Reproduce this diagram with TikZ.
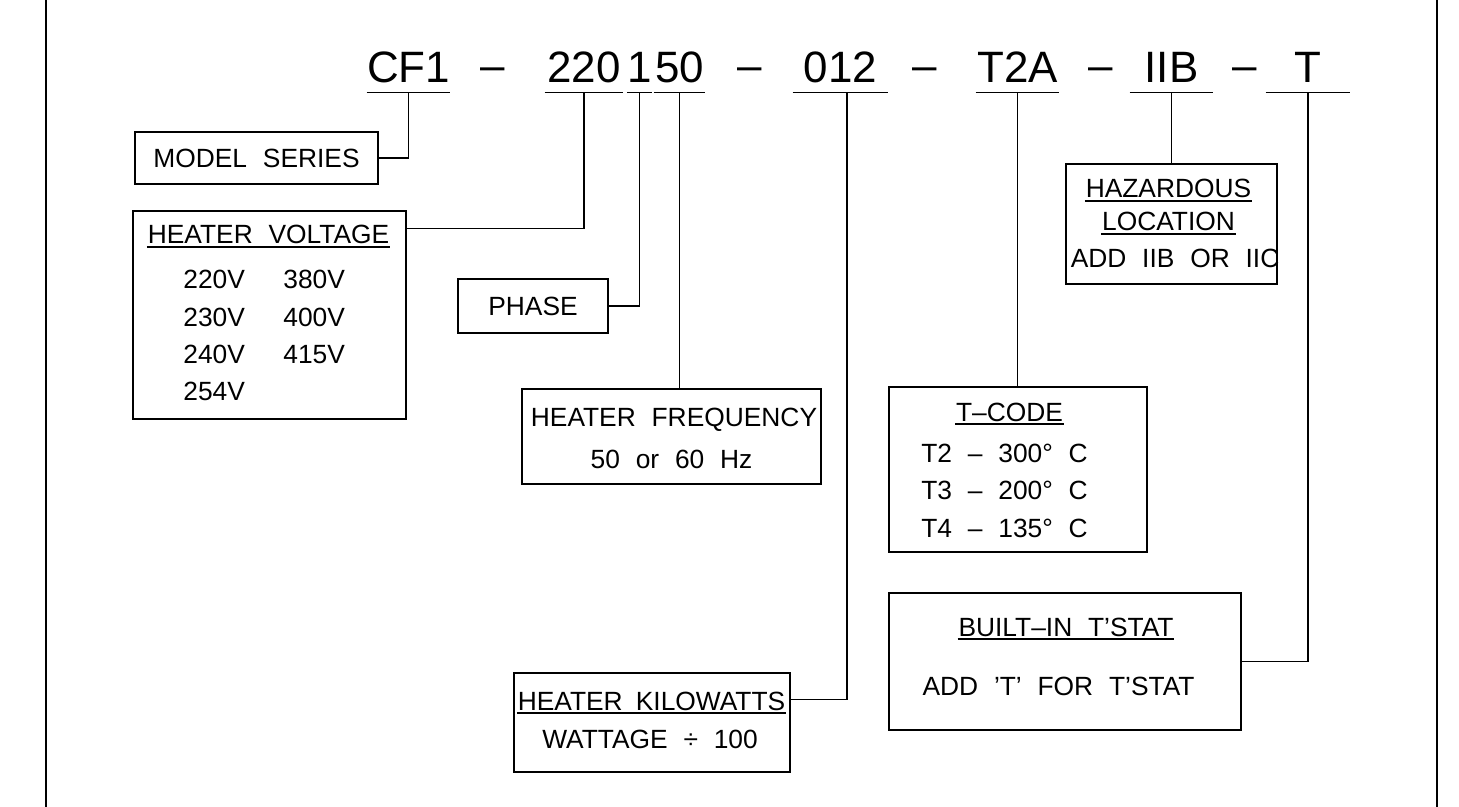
\documentclass[tikz,border=0pt]{standalone}
\usepackage{fontspec}
\setmainfont{Liberation Sans}
\newcommand{\wsp}{\hspace{0.6em}}
\newcommand{\ulbox}[1]{\vtop{\hbox{\kern0.5pt#1\kern0.5pt}\kern1.1pt\hrule height 0.9pt}}
\newcommand{\lblfont}{\fontsize{15}{18}\selectfont}
\newcommand{\codefont}{\fontsize{25}{30}\selectfont}
\newcommand{\codedash}{\raisebox{1.6pt}{\textendash}}
\tikzset{
  box/.style={draw,line width=1.3pt,inner sep=0pt,font=\lblfont},
  lbl/.style={font=\lblfont,inner sep=0pt,anchor=base},
  code/.style={font=\codefont,inner sep=0pt,anchor=base},
  seg/.style={code,text depth=0.18cm,minimum width=#1},
  segline/.style={line width=0.9pt},
  conn/.style={line width=0.6pt},
  frame/.style={line width=1.5pt},
}
\begin{document}
\begin{tikzpicture}[x=0.02cm,y=-0.02cm]
  \useasboundingbox (0,0) rectangle (1459,807);
  \draw[frame] (46,0) -- (46,807); \draw[frame] (1437,0) -- (1437,807);

  % part number
  \node[seg=1.5cm] (cf) at (408.5,83) {CF1};
  \node[code] (dA) at (493,83) {\codedash};
  \node[seg=1.56cm] (v220) at (584,83) {220};
  \node[seg=0.38cm] (ph1) at (639.5,83) {1};
  \node[seg=1.02cm] (hz50) at (679.5,83) {50};
  \node[code] (dB) at (750,83) {\codedash};
  \node[seg=1.9cm] (kw012) at (840.5,83) {012};
  \node[code] (dC) at (925,83) {\codedash};
  \node[seg=1.66cm] (t2a) at (1017.5,83) {T2A};
  \node[code] (dD) at (1101,83) {\codedash};
  \node[seg=1.66cm] (iib) at (1171.5,83) {IIB};
  \node[code] (dE) at (1245,83) {\codedash};
  \node[seg=1.68cm] (tst) at (1308,83) {T};
  \foreach \n in {cf,v220,ph1,hz50,kw012,t2a,iib,tst}
    \draw[segline] (\n.south west) -- (\n.south east);

  % boxes
  \node[box,minimum width=4.86cm,minimum height=1.04cm] (model) at (256.5,158) {MODEL\wsp SERIES};
  \node[box,minimum width=5.46cm,minimum height=4.16cm] (volt) at (269.5,315) {};
  \node[box,minimum width=3cm,minimum height=1.08cm] (phase) at (533,306) {PHASE};
  \node[box,minimum width=5.98cm,minimum height=1.9cm] (freq) at (671.5,436.5) {};
  \node[box,minimum width=5.52cm,minimum height=1.98cm] (kw) at (652,722.5) {};
  \node[box,minimum width=4.22cm,minimum height=2.4cm] (haz) at (1171.5,224) {};
  \node[box,minimum width=5.16cm,minimum height=3.3cm] (tcode) at (1018,469.5) {};
  \node[box,minimum width=7.04cm,minimum height=2.74cm] (tstat) at (1065,661.5) {};

  % box texts
  \node[lbl] (vtitle) at (268.5,244) {\ulbox{HEATER\wsp VOLTAGE}};
  \node[lbl,anchor=base west] (v1) at (183,289) {220V}; \node[lbl,anchor=base west] (v2) at (283,289) {380V};
  \node[lbl,anchor=base west] (v3) at (183,326) {230V}; \node[lbl,anchor=base west] (v4) at (283,326) {400V};
  \node[lbl,anchor=base west] (v5) at (183,363) {240V}; \node[lbl,anchor=base west] (v6) at (283,363) {415V};
  \node[lbl,anchor=base west] (v7) at (183,400) {254V};
  \node[lbl] (ftitle) at (674,426) {HEATER\wsp FREQUENCY};
  \node[lbl] (fval) at (671.5,468) {50\wsp or\wsp 60\wsp Hz};
  \node[lbl] (ktitle) at (651.5,710) {\ulbox{HEATER\hspace{0.5em}KILOWATTS}};
  \node[lbl] (kval) at (650,748) {WATTAGE\wsp ÷\wsp 100};
  \node[lbl] (htitle) at (1168.5,198) {\ulbox{HAZARDOUS}};
  \node[lbl] (htitleb) at (1168.5,231) {\ulbox{LOCATION}};
  \node[lbl] (hval) at (1175,268) {ADD\wsp IIB\wsp OR\wsp IIC};
  \node[lbl] (ttitle) at (1009.5,421) {\ulbox{T\textendash CODE}};
  \node[lbl,anchor=base west] (t2) at (921,462) {T2\wsp\textendash\wsp 300°\wsp C};
  \node[lbl,anchor=base west] (t3) at (921,499) {T3\wsp\textendash\wsp 200°\wsp C};
  \node[lbl,anchor=base west] (t4) at (921,537) {T4\wsp\textendash\wsp 135°\wsp C};
  \node[lbl] (stitle) at (1066,636) {\ulbox{BUILT\textendash IN\wsp T'STAT}};
  \node[lbl] (sval) at (1058.5,695) {ADD\wsp 'T'\wsp FOR\wsp T'STAT};

  % leaders
  \draw[conn] (cf.south) |- (model.east);
  \draw[conn] (v220.south) |- ([yshift=-0.38cm]volt.north east);
  \draw[conn] (ph1.south) |- (phase.east);
  \draw[conn] (hz50.south) -- (hz50.south |- freq.north);
  \draw[conn] ([xshift=0.13cm]kw012.south) |- ([yshift=-0.56cm]kw.north east);
  \draw[conn] (t2a.south) -- (t2a.south |- tcode.north);
  \draw[conn] (iib.south) -- (iib.south |- haz.north);
  \draw[conn] (tst.south) |- (tstat.east);
\end{tikzpicture}
\end{document}
